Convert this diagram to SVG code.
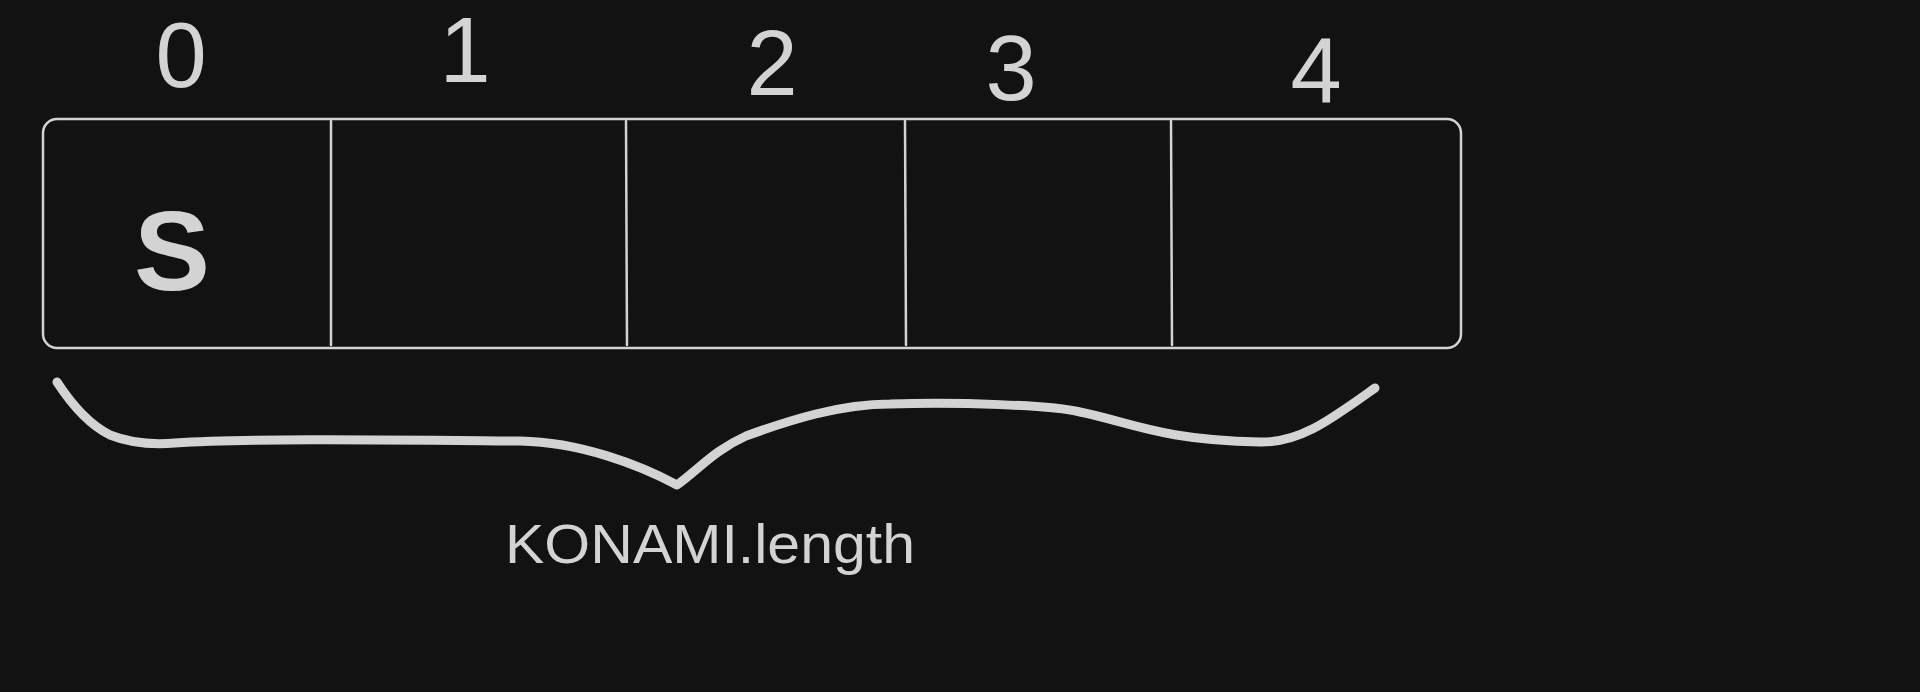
<svg xmlns="http://www.w3.org/2000/svg" width="1920" height="692" viewBox="0 0 1920 692">
  <style>
    .ln { fill: none; stroke: #d3d3d3; stroke-linecap: round; stroke-linejoin: round; }
    .box { stroke-width: 2.5; }
    .div { stroke-width: 2.5; }
    .brace { stroke-width: 9; }
    .idx { font-family: "Liberation Sans", Arial, sans-serif; font-size: 92px; fill: #d3d3d3; text-anchor: middle; }
    .cell { font-family: "Liberation Sans", Arial, sans-serif; font-size: 114px; font-weight: bold; fill: #d3d3d3; text-anchor: middle; }
    .lbl { font-family: "Liberation Sans", Arial, sans-serif; font-size: 56px; fill: #d3d3d3; }
  </style>
  <rect width="1920" height="692" fill="#121212"/>
  <g id="indices">
    <text class="idx" x="181" y="87">0</text>
    <text class="idx" x="465" y="82">1</text>
    <text class="idx" x="772" y="95">2</text>
    <text class="idx" x="1011" y="100">3</text>
    <text class="idx" x="1316" y="102">4</text>
  </g>
  <g id="array">
    <rect class="ln box" x="43" y="119" width="1418" height="229" rx="14" ry="14"/>
    <line class="ln div" x1="331" y1="121" x2="331" y2="345"/>
    <line class="ln div" x1="626" y1="121" x2="627" y2="345"/>
    <line class="ln div" x1="905" y1="121" x2="906" y2="345"/>
    <line class="ln div" x1="1171" y1="121" x2="1172" y2="345"/>
  </g>
  <g id="cell0">
    <text class="cell" x="172" y="290">S</text>
  </g>
  <g id="connectors">
    <path class="ln brace" d="M57,382 C70,402 88,424 110,435 C130,443 150,445 175,443 C250,438 400,440 520,441 C580,442 640,465 677,485 C700,468 715,450 746,436 C790,420 840,404 890,404 C960,402 1050,405 1080,412 C1130,422 1160,440 1260,442 C1300,443 1330,420 1375,388"/>
  </g>
  <g id="label">
    <text class="lbl" x="505" y="563" textLength="410" lengthAdjust="spacingAndGlyphs">KONAMI.length</text>
  </g>
</svg>
